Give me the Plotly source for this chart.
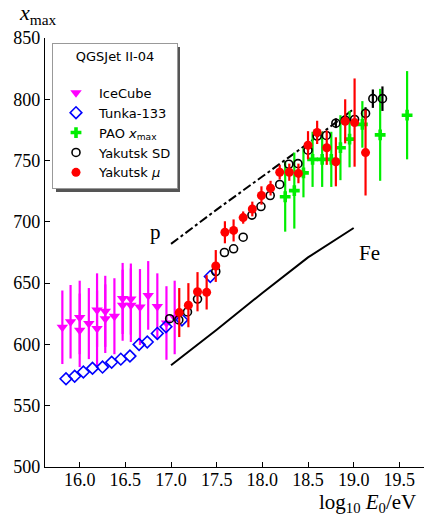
import plotly.graph_objects as go

# IceCube
ice_x = [15.81, 15.90, 16.00, 16.00, 16.10, 16.19, 16.19, 16.28, 16.28, 16.38,
         16.47, 16.47, 16.56, 16.56, 16.66, 16.75, 16.85, 16.95, 17.04]
ice_y = [614, 618.5, 622, 611.5, 617, 628, 613, 627, 621, 623,
         637.5, 632, 637, 632, 630.5, 640, 631, 617.5, 622]
ice_err = [30, 30, 30, 30, 29, 30, 31, 29, 28, 31, 29, 29, 29, 30, 31, 28, 27, 30, 30]

# Tunka-133
tunka_x = [15.85, 15.945, 16.04, 16.14, 16.25, 16.35, 16.45, 16.55, 16.65, 16.74,
           16.85, 16.945, 17.12, 17.43]
tunka_y = [572, 574, 577.5, 580.5, 581.5, 585.5, 588, 590.5, 600, 602,
           609, 614.5, 620, 655.5]

# PAO xmax
pao_x = [18.25, 18.35, 18.45, 18.55, 18.655, 18.755, 18.855, 18.955, 19.095, 19.29, 19.585]
pao_y = [720.5, 725.5, 740, 751, 751, 751, 760.5, 767.5, 779.5, 771, 787]
pao_err = [28.5, 31, 20, 22.5, 22.5, 22.5, 26.5, 23, 19, 37.5, 36]

# Yakutsk SD
sd_x = [16.985, 17.085, 17.18, 17.29, 17.49, 17.585, 17.685, 17.79, 17.886, 17.985,
        18.086, 18.19, 18.29, 18.39, 18.50, 18.60, 18.70, 18.805, 18.907, 19.01,
        19.13, 19.21, 19.315]
sd_y = [621, 620, 626.5, 637, 659.5, 675, 678, 687.5, 705.5, 712.5,
        721.5, 730.5, 747, 747.5, 758.5, 770, 770.5, 780.5, 783, 783.5,
        788.5, 800.5, 800.5]
sd_err = [0, 0, 0, 0, 0, 0, 0, 0, 0, 0,
          0, 0, 0, 0, 0, 0, 0, 4, 0, 0,
          5, 7.5, 10]

# Yakutsk mu
mu_x = [17.09, 17.19, 17.29, 17.39, 17.49, 17.59, 17.685, 17.79, 17.89, 17.99,
        18.09, 18.19, 18.295, 18.395, 18.50, 18.60, 18.705, 18.805, 18.907, 19.01, 19.13]
mu_y = [626, 632, 643, 642.5, 664, 691.5, 693, 703.5, 710.5, 721.5,
        727.5, 740.5, 740.5, 739.5, 762.5, 773, 760.5, 749, 782, 781, 756.5]
mu_err = [20, 18, 16, 14, 13, 9, 9, 5, 6, 7.5,
          6, 6, 7, 8, 11.5, 9.5, 14, 20, 18, 36, 35]

# model lines
p_x = [17.0, 17.5, 18.0, 18.5, 19.0]
p_y = [682, 710, 737, 764, 792]
fe_x = [17.0, 17.5, 18.0, 18.5, 19.0]
fe_y = [583, 612, 642, 671, 695]

x_ticks = [16.0, 16.5, 17.0, 17.5, 18.0, 18.5, 19.0, 19.5]
y_ticks = [500, 550, 600, 650, 700, 750, 800, 850]

fig = go.Figure()

fig.add_trace(go.Scatter(x=p_x, y=p_y, mode="lines", showlegend=False,
                         line=dict(color="black", width=2, dash="dashdot")))
fig.add_trace(go.Scatter(x=fe_x, y=fe_y, mode="lines", showlegend=False,
                         line=dict(color="black", width=2)))

fig.add_trace(go.Scatter(
    x=ice_x, y=ice_y, mode="markers", name="IceCube",
    marker=dict(symbol="triangle-down", size=10, color="#ff00ff"),
    error_y=dict(type="data", array=ice_err, color="#ff00ff", thickness=2.2, width=0)))
fig.add_trace(go.Scatter(
    x=tunka_x, y=tunka_y, mode="markers", name="Tunka-133",
    marker=dict(symbol="diamond-open", size=9, color="#0000ff", line=dict(width=1.6))))
fig.add_trace(go.Scatter(
    x=pao_x, y=pao_y, mode="markers", name="PAO <i>x</i><sub>max</sub>",
    marker=dict(symbol="cross", size=9, color="#00ee00"),
    error_y=dict(type="data", array=pao_err, color="#00ee00", thickness=2.2, width=0)))
fig.add_trace(go.Scatter(
    x=sd_x, y=sd_y, mode="markers", name="Yakutsk SD",
    marker=dict(symbol="circle-open", size=8, color="black", line=dict(width=1.6)),
    error_y=dict(type="data", array=sd_err, color="black", thickness=2.2, width=0)))
fig.add_trace(go.Scatter(
    x=mu_x, y=mu_y, mode="markers", name="Yakutsk <i>μ</i>",
    marker=dict(symbol="circle", size=9, color="#ff0000"),
    error_y=dict(type="data", array=mu_err, color="#ff0000", thickness=2.2, width=0)))

serif = "Liberation Serif, Times New Roman, serif"
fig.add_annotation(x=16.83, y=692, text="p", showarrow=False,
                   font=dict(family=serif, size=21, color="black"))
fig.add_annotation(x=19.17, y=674.5, text="Fe", showarrow=False,
                   font=dict(family=serif, size=21, color="black"))

fig.add_annotation(xref="paper", yref="paper", x=-0.075, y=1.055, xanchor="left",
                   yanchor="middle", text="<i>x</i><sub>max</sub>", showarrow=False,
                   font=dict(family=serif, size=22, color="black"))
fig.add_annotation(xref="paper", yref="paper", x=0.985, y=-0.085, xanchor="right",
                   yanchor="middle", text="log<sub>10</sub> <i>E</i><sub>0</sub>/eV",
                   showarrow=False, font=dict(family=serif, size=21, color="black"))

# legend shadow
fig.add_shape(type="rect", xref="paper", yref="paper", layer="above",
              x0=(56 - 45) / 379, x1=(180 - 45) / 379,
              y0=(467 - 192) / 429, y1=(467 - 47) / 429,
              fillcolor="#555555", line=dict(width=0))

fig.update_layout(
    width=424, height=517,
    margin=dict(l=45, r=0, t=38, b=50),
    paper_bgcolor="white", plot_bgcolor="white",
    showlegend=True,
    legend=dict(
        x=(52 - 45) / 379, y=(467 - 43) / 429, xanchor="left", yanchor="top",
        bgcolor="white", bordercolor="#999999", borderwidth=1,
        itemwidth=36,
        font=dict(family="DejaVu Sans", size=13, color="black"),
        title=dict(text="QGSJet II-04<br> ", side="top center",
                   font=dict(family="DejaVu Sans", size=13, color="black")),
    ),
    xaxis=dict(range=[15.62, 19.77], tickvals=x_ticks,
               ticktext=[f"{v:.1f}" for v in x_ticks],
               showgrid=False, zeroline=False, showline=True, linecolor="black",
               linewidth=1.3, ticks="inside", ticklen=5, tickcolor="black",
               ticklabelstandoff=-4,
               tickfont=dict(family=serif, size=18, color="black")),
    yaxis=dict(range=[500, 850], tickvals=y_ticks,
               showgrid=False, zeroline=False, showline=True, linecolor="black",
               linewidth=1.3, ticks="inside", ticklen=5, tickcolor="black",
               tickfont=dict(family=serif, size=18, color="black")),
)

fig.write_html("out.html")
